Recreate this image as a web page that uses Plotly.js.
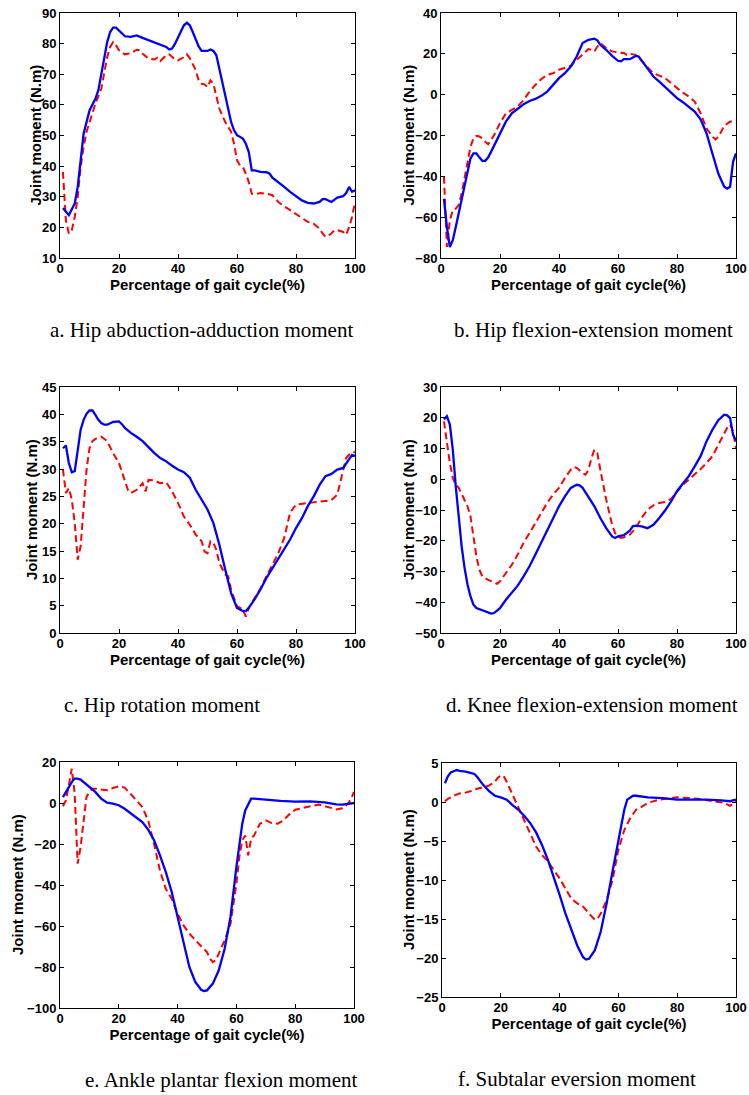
<!DOCTYPE html>
<html><head><meta charset="utf-8">
<script src="https://cdn.plot.ly/plotly-3.0.1.min.js"></script>
<style>html,body{margin:0;padding:0;background:#fff}#chart{width:749px;height:1095px}</style>
</head><body><div id="chart"></div>
<script>
// ---- Data (percentage of gait cycle vs joint moment, N.m) ----
// a. Hip abduction-adduction
const aBlueX = [1,3,5,6,7,8,10,12,13,14,15,16,17,18,19,20,22,24,26,28,30,32,34,36,37,38,39,40,41,42,43,44,45,46,47,48,50,51,52,53,54,55,56,57,58,59,60,62,63,64,65,66,68,70,71,72,74,76,78,80,82,84,86,88,89,90,92,94,96,97,98,99,100];
const aBlueY = [26.3,24.0,27.8,33.2,41.9,50.6,58.2,62.0,64.8,70.2,75.6,80.5,83.8,85.2,85.2,84.3,82.4,82.2,82.7,81.9,81.1,80.4,79.7,78.9,78.1,78.4,80.0,82.2,84.3,86.0,86.8,86.0,83.8,81.3,79.1,77.6,77.6,78.1,77.6,76.2,71.8,66.9,62.6,58.2,54.4,51.7,50.1,49.0,47.3,44.6,38.6,38.6,38.1,38.0,37.6,36.2,34.8,33.2,31.6,30.2,28.8,28.0,27.8,28.3,29.2,29.2,28.3,29.7,30.2,31.2,33.2,31.6,32.1];
const aRedX = [1,2,3,4,5,6,7,8,9,10,12,14,15,16,17,18,19,20,22,24,26,27,28,30,32,33,34,35,36,37,38,39,40,42,43,44,46,47,48,49,50,51,52,53,54,56,58,59,60,61,62,63,64,65,66,68,70,72,74,76,78,80,82,84,86,88,89,90,91,92,93,94,96,97,98,99,100];
const aRedY = [38.1,22.3,18.0,19.1,23.4,29.9,39.7,46.3,51.2,54.4,60.4,65.3,70.7,75.6,78.9,80.5,79.4,77.8,76.5,76.9,78.0,77.8,76.7,75.1,74.8,75.4,74.3,75.3,76.2,76.5,75.6,74.8,74.5,75.6,76.5,75.3,71.3,68.0,66.9,66.7,65.8,68.0,66.9,63.1,58.8,54.4,51.2,47.3,41.9,40.3,39.7,37.5,34.8,31.0,30.8,31.2,31.0,30.5,28.3,26.9,25.6,24.2,22.9,21.8,21.2,19.6,18.0,16.9,17.4,18.0,19.1,19.1,18.5,17.6,20.1,23.4,28.3];

// b. Hip flexion-extension
const bBlueX = [1,2,3,4,5,6,7,8,9,10,11,12,13,14,15,16,17,18,20,22,24,26,28,30,32,34,36,38,40,42,44,46,48,50,52,53,54,56,58,60,61,62,64,66,67,68,70,72,74,76,78,80,82,84,86,88,90,92,94,96,97,98,99,100];
const bBlueY = [-51,-64.8,-74.6,-71.3,-64.8,-58.2,-51.7,-44.3,-37,-31.2,-28.8,-28.8,-30.7,-32.4,-32.4,-30.7,-27.9,-25,-18.9,-13.2,-9.1,-6.7,-4.7,-3.1,-2.1,-0.6,1.5,4.8,8.1,10.5,13.8,18.7,25.3,26.9,27.4,26.6,24.4,22,19.0,16.6,16.3,17.4,17.4,19.0,18.7,16.8,13,8.9,6.4,3.7,0.7,-1.7,-3.7,-6.2,-8.3,-12.1,-18.9,-28.8,-38.6,-45.1,-46.0,-45.1,-32.9,-28.8];
const bRedX = [1,2,3,4,5,6,7,8,9,10,11,12,13,14,15,16,17,18,20,22,24,26,28,30,32,34,36,38,40,42,44,46,48,50,51,52,53,54,56,58,60,62,63,64,66,68,70,72,74,76,78,80,82,84,86,88,90,92,93,94,95,96,98,100];
const bRedY = [-40.2,-74.6,-61.5,-56.6,-55.8,-54.1,-48.4,-40.2,-33.7,-25.5,-21.4,-20.2,-20.5,-21.4,-23.0,-24.3,-22.2,-19.8,-14.0,-9.1,-7.5,-5.8,-2.6,1.5,4.8,7.7,9.7,10.5,12.2,13.0,14.1,17.1,19.5,22.3,22,21.2,23.6,25.3,22.8,21.2,20.7,20.4,19.5,20.0,19.5,16.3,13.5,10.5,9.2,8.1,5.6,3.2,1.0,-0.9,-3.4,-9.1,-16.5,-20.5,-21.9,-20.8,-18.1,-15.3,-13.2,-13.2];

// c. Hip rotation
const cBlueX = [1,2,3,4,5,6,7,8,9,10,11,12,13,14,15,16,18,20,21,22,24,26,28,30,32,34,36,38,40,42,44,46,48,50,52,54,56,58,60,62,63,64,66,68,70,72,74,76,78,80,82,84,86,88,90,92,94,96,98,99,100];
const cBlueY = [33.8,34.3,31.1,29.4,29.6,33.2,37.2,39.0,40.1,40.7,40.7,39.9,39.0,38.4,38.1,38.1,38.6,38.7,38.2,37.5,36.6,35.9,35.1,34.0,32.9,32.0,31.4,30.6,29.9,29.4,28.4,26.2,24.4,22.6,20.1,16.2,11.6,7.3,4.6,4.0,4.0,4.6,6.2,8.0,10.1,11.9,13.7,15.4,17.1,19.2,21.0,23.2,25.0,27.1,28.7,29.1,29.9,30.2,31.7,32.6,32.4];
const cRedX = [1,2,3,4,5,6,7,8,9,10,11,12,14,16,18,20,22,23,24,26,28,29,30,32,34,36,38,40,42,44,46,48,49,50,51,52,53,54,56,57,58,60,62,63,64,66,68,70,72,74,76,78,80,82,84,86,88,90,92,94,95,96,97,98,99,100];
const cRedY = [29.9,25.6,26.5,24.4,20.1,13.4,15.9,23.8,29.9,33.8,35.1,35.5,35.9,35.1,32.9,31.1,28.0,26.2,25.6,26.2,27.4,25.9,28.0,27.9,27.4,27.6,25.9,23.8,21.3,19.8,18.0,16.8,14.9,14.6,16.8,16.5,15.2,12.8,10.7,10.4,7.9,4.9,4.3,3.0,4.6,6.4,8.2,10.4,12.5,14.6,17.4,22.0,23.5,23.7,23.8,23.9,24.0,24.1,24.3,25.3,27.4,29.9,32.0,32.6,32.7,33.2];

// d. Knee flexion-extension
const dBlueX = [1,2,3,4,5,6,7,8,9,10,11,12,14,16,17,18,20,22,24,26,28,30,32,34,36,38,40,42,44,46,47,48,50,52,54,56,58,59,60,62,64,65,66,68,70,72,74,76,78,80,82,84,86,88,90,92,94,96,97,98,99,100];
const dBlueY = [19.4,20.5,17.8,9.6,-2.3,-13.1,-21.8,-28.9,-34.3,-38.1,-40.8,-41.9,-42.6,-43.3,-43.7,-43.5,-41.9,-39.2,-37.0,-34.6,-31.6,-28.3,-24.5,-20.7,-16.4,-12.6,-8.8,-5.6,-2.8,-1.8,-2.0,-2.8,-5.6,-8.8,-12.6,-15.9,-18.6,-19.1,-18.6,-18.2,-16.7,-15.3,-15.1,-15.3,-15.9,-14.8,-12.6,-10.1,-7.2,-3.9,-1.4,1.0,4.2,7.5,12.3,16.1,19.2,21.0,20.8,19.9,14.5,12.5];
const dRedX = [1,2,3,4,5,6,8,9,10,11,12,13,14,16,18,19,20,22,24,26,28,30,32,34,36,38,40,42,44,45,46,48,49,50,51,52,53,54,56,58,59,60,61,62,64,66,68,70,72,74,76,78,80,82,84,86,88,90,92,94,96,97,98,99,100];
const dRedY = [18.8,11.8,5.3,0.4,-1.8,-2.8,-6.6,-8.8,-12.1,-18.6,-25.1,-29.4,-31.6,-32.7,-33.5,-34.0,-33.2,-30.5,-27.8,-24.5,-20.7,-17.5,-14.2,-11.0,-7.7,-5.0,-2.8,0.4,3.1,4.0,3.7,2.0,1.5,3.1,6.9,9.6,8.5,3.1,-6.6,-14.8,-17.5,-18.6,-19.1,-18.9,-18.0,-15.9,-12.6,-9.9,-8.5,-7.7,-7.4,-6.4,-3.9,-1.8,-0.1,1.5,3.3,5.3,7.5,11.2,15.0,16.7,17.8,15.6,10.2];

// e. Ankle plantar flexion
const eBlueX = [1,2,3,4,5,6,7,8,10,12,14,16,18,20,22,24,26,28,30,32,34,36,38,40,42,44,46,48,49,50,52,54,56,58,60,62,63,64,65,66,68,70,75,80,85,90,94,96,98,100];
const eBlueY = [2.9,5.4,7.8,10.2,11.9,11.9,11.4,10.2,7.8,5.4,2.1,0.2,-0.3,-1.1,-2.8,-4.9,-7.2,-9.3,-13.0,-18.2,-25.5,-33.7,-43.4,-55.6,-68.6,-80.0,-87.3,-91.1,-91.7,-91.4,-88.1,-81.6,-71.1,-55.6,-31.2,-10.1,-3.6,-1.1,2.1,2.1,1.8,1.6,1.0,0.7,0.8,0.3,-0.7,-0.8,-0.3,0.0];
const eRedX = [1,2,3,4,5,6,7,8,9,10,11,12,14,16,18,20,22,24,26,28,30,32,34,36,38,40,42,44,46,48,50,51,52,53,54,56,58,59,60,61,62,63,64,65,66,68,70,72,74,76,78,80,82,84,86,88,90,92,94,96,98,99,100];
const eRedY = [-1.6,1.3,8.6,16.7,4.6,-29.6,-21.5,-10.1,2.9,5.4,7.0,7.0,6.5,6.2,7.3,8.1,7.5,4.6,1.3,-2.0,-8.5,-20.0,-33.0,-42.0,-46.7,-54.0,-59.7,-63.7,-67.0,-69.9,-72.7,-75.9,-77.6,-76.7,-73.5,-67.0,-58.9,-49.1,-39.3,-26.3,-18.2,-15.8,-25.5,-17.4,-15.8,-10.1,-8.5,-9.8,-10.1,-8.5,-5.5,-3.3,-2.8,-2.0,-1.3,-0.8,-1.5,-2.4,-3.1,-2.6,-0.3,2.1,5.4];

// f. Subtalar eversion
const fBlueX = [1,2,3,4,5,6,8,10,11,12,14,16,18,20,22,24,26,28,30,32,34,36,38,40,42,44,46,48,49,50,52,54,56,58,60,62,63,64,65,66,70,75,80,85,90,95,98,100];
const fBlueY = [2.4,3.3,3.8,4.0,4.1,4.0,3.9,3.7,3.6,3.2,2.2,1.4,0.8,0.6,0.3,-0.4,-1.0,-1.8,-2.7,-3.9,-5.5,-7.4,-9.6,-11.9,-14.3,-16.4,-18.4,-19.9,-20.2,-20.1,-19.0,-16.6,-13.0,-8.9,-4.9,-1.0,0.3,0.6,0.8,0.8,0.6,0.5,0.3,0.3,0.3,0.2,0.1,0.3];
const fRedX = [1,2,4,6,8,10,12,14,16,18,19,20,21,22,24,26,28,30,32,34,36,38,40,42,44,46,48,50,52,53,54,56,58,60,62,64,66,68,70,74,78,80,84,88,92,96,98,100];
const fRedY = [0.1,0.4,0.8,1.1,1.2,1.4,1.7,1.9,2.1,2.6,3.1,3.4,3.3,2.6,0.9,-0.8,-2.5,-4.2,-5.7,-6.8,-7.6,-8.7,-9.8,-11.1,-12.4,-13.0,-13.4,-14.3,-15.1,-14.9,-14.3,-12.6,-10.0,-6.1,-3.6,-2.1,-1.0,-0.6,-0.1,0.3,0.5,0.6,0.5,0.4,0.1,-0.1,-0.5,0.1];

const xTicks = [0,20,40,60,80,100];
const xTitle = 'Percentage of gait cycle(%)';
const yTitle = 'Joint moment (N.m)';
const captions = ['a. Hip abduction-adduction moment','b. Hip flexion-extension moment','c. Hip rotation moment','d. Knee flexion-extension moment','e. Ankle plantar flexion moment','f. Subtalar eversion moment'];
const yRanges = [[10,90],[-80,40],[0,45],[-50,30],[-100,20],[-25,5]];
const yDticks = [10,20,5,10,20,5];

// ---- Layout (pixel boxes) ----
const W = 749, H = 1095;
const boxes = [[60,13,355,258],[441,13,736,258],[60,387,355,633],[441,387,736,633],[60,762,354,1008],[442,763,736,997]];
const capPos = [[201,330],[593,330],[162,705],[592,705],[221,1080],[577,1079]];
const yTitleX = [35,408,31,408,17,408];
const series = [[aBlueX,aBlueY,aRedX,aRedY],[bBlueX,bBlueY,bRedX,bRedY],[cBlueX,cBlueY,cRedX,cRedY],[dBlueX,dBlueY,dRedX,dRedY],[eBlueX,eBlueY,eRedX,eRedY],[fBlueX,fBlueY,fRedX,fRedY]];

const FONT = 'Liberation Sans, Arial, sans-serif';
const tickFont = {family: FONT, size: 13, color: '#000', weight: 'bold'};
const titleFont = {family: FONT, size: 15, color: '#000', weight: 'bold'};

const data = [];
const layout = {
  width: W, height: H, margin: {l:0, r:0, t:0, b:0},
  paper_bgcolor: '#fff', plot_bgcolor: '#fff', showlegend: false,
  annotations: []
};
boxes.forEach((b, i) => {
  const n = i + 1;
  const xs = n === 1 ? '' : String(n);
  const s = series[i];
  data.push({x: s[2], y: s[3], xaxis: 'x'+xs, yaxis: 'y'+xs, type: 'scatter', mode: 'lines',
             line: {color: '#FF0000', width: 2, dash: '7px,4px'}, hoverinfo: 'skip'});
  data.push({x: s[0], y: s[1], xaxis: 'x'+xs, yaxis: 'y'+xs, type: 'scatter', mode: 'lines',
             line: {color: '#0000FF', width: 2.3}, hoverinfo: 'skip'});
  const common = {showline: true, linecolor: '#000', linewidth: 1, mirror: 'ticks', ticks: 'inside',
                  ticklen: 4, tickwidth: 1, tickcolor: '#000', showgrid: false, zeroline: false,
                  tickfont: tickFont, fixedrange: true, automargin: false};
  layout['xaxis'+xs] = Object.assign({}, common, {
    domain: [b[0]/W, b[2]/W], range: [0,100], tickvals: xTicks, anchor: 'y'+xs,
    ticklabelstandoff: -2,
    title: {text: xTitle, font: titleFont, standoff: 1}
  });
  layout['yaxis'+xs] = Object.assign({}, common, {
    domain: [1 - b[3]/H, 1 - b[1]/H], range: yRanges[i], dtick: yDticks[i], tick0: 0, anchor: 'x'+xs
  });
  const cy = (b[1] + b[3]) / 2;
  layout.annotations.push({text: yTitle, xref: 'paper', yref: 'paper', textangle: -90,
    x: yTitleX[i]/W, y: 1 - cy/H, xanchor: 'center', yanchor: 'middle', showarrow: false,
    font: titleFont});
  layout.annotations.push({text: captions[i], xref: 'paper', yref: 'paper',
    x: capPos[i][0]/W, y: 1 - capPos[i][1]/H, xanchor: 'center', yanchor: 'middle', showarrow: false,
    font: {family: 'Liberation Serif, Times New Roman, serif', size: 21, color: '#000'}});
});
Plotly.newPlot('chart', data, layout, {staticPlot: true, displayModeBar: false});
</script>
</body></html>
